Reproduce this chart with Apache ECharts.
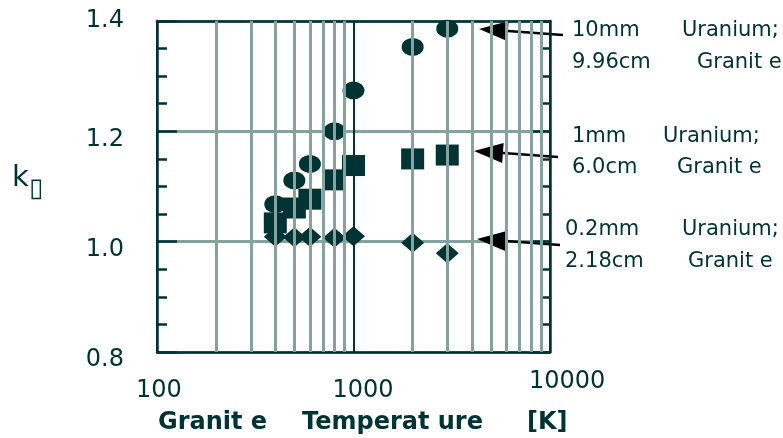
<!DOCTYPE html>
<html>
<head>
<meta charset="utf-8">
<script src="https://cdn.jsdelivr.net/npm/echarts@6/dist/echarts.min.js"></script>
<style>
html, body { margin: 0; padding: 0; background: #fff; }
#main { width: 783px; height: 438px; }
</style>
</head>
<body>
<div id="main"></div>
<script>
// 数据
var 温度 = [400, 500, 600, 800, 1000, 2000, 3000];
var k_10mm = [1.068, 1.111, 1.141, 1.200, 1.274, 1.353, 1.386];
var k_1mm = [1.034, 1.061, 1.077, 1.112, 1.138, 1.150, 1.157];
var k_02mm = [1.009, 1.008, 1.009, 1.007, 1.010, 0.998, 0.979];

var x刻度 = [100, 1000, 10000];
var x刻度文字 = ['100', '1000', '10000'];
var y刻度 = [0.8, 1.0, 1.2, 1.4];
var y刻度文字 = ['0.8', '1.0', '1.2', '1.4'];
var x细网格 = [200, 300, 400, 500, 600, 700, 800, 900, 2000, 3000, 4000, 5000, 6000, 7000, 8000, 9000];

var 深色 = '#003333';
var 灰色 = '#86a29e';
var 字体 = 'DejaVu Sans';

function 配对(xs, ys) {
    var arr = [];
    for (var i = 0; i < xs.length; i++) {
        arr.push([xs[i], ys[i]]);
    }
    return arr;
}

function 箭头(x1, y1, x2, y2) {
    // 从 (x1,y1) 指向 (x2,y2)
    var dx = x2 - x1, dy = y2 - y1;
    var len = Math.sqrt(dx * dx + dy * dy);
    var ux = dx / len, uy = dy / len;
    var 头长 = 29, 半宽 = 10;
    var bx = x2 - ux * 头长, by = y2 - uy * 头长;
    return [
        {
            type: 'line', silent: true,
            shape: { x1: x1, y1: y1, x2: bx, y2: by },
            style: { stroke: '#000', lineWidth: 2.5 }
        },
        {
            type: 'polygon', silent: true,
            shape: { points: [[x2, y2], [bx - uy * 半宽, by + ux * 半宽], [bx + uy * 半宽, by - ux * 半宽]] },
            style: { fill: '#000' }
        }
    ];
}

function 文字(x, y, text, size, weight, align) {
    return {
        type: 'text', silent: true, x: x, y: y,
        style: {
            text: text, fill: 深色, fontSize: size, fontFamily: 字体,
            fontWeight: weight || 'normal', align: align || 'left', verticalAlign: 'middle'
        }
    };
}

var myChart = echarts.init(document.getElementById('main'));

var yAxis公共 = {
    type: 'value', min: 0.8, max: 1.4, interval: 0.2,
    axisLine: { show: true, lineStyle: { color: 深色, width: 2.5 } },
    axisTick: { show: true, inside: true, length: 20, lineStyle: { color: 深色, width: 2.5 } },
    minorTick: { show: true, splitNumber: 4, length: 10, lineStyle: { color: 深色, width: 2.5 } },
    axisLabel: { show: false }
};

var option = {
    animation: false,
    backgroundColor: '#fff',
    grid: { left: 157, right: 233, top: 21, bottom: 86, containLabel: false, outerBoundsMode: 'none' },
    xAxis: [
        {
            type: 'log', logBase: 10, min: 100, max: 10000, position: 'bottom',
            axisLine: { show: true, lineStyle: { color: 深色, width: 2.5 } },
            axisTick: { show: false },
            axisLabel: { show: false },
            splitLine: { show: true, lineStyle: { color: 深色, width: 2 } }
        },
        {
            type: 'log', logBase: 10, min: 100, max: 10000, position: 'top',
            axisLine: { show: true, lineStyle: { color: 深色, width: 2.5 } },
            axisTick: { show: false },
            axisLabel: { show: false },
            splitLine: { show: false }
        }
    ],
    yAxis: [
        Object.assign({}, yAxis公共, {
            position: 'left',
            splitLine: { show: true, lineStyle: { color: 灰色, width: 3 } }
        }),
        Object.assign({}, yAxis公共, {
            position: 'right',
            splitLine: { show: false }
        })
    ],
    series: [
        {
            // 次网格线
            type: 'line', data: [], z: 1, silent: true,
            markLine: {
                silent: true, symbol: ['none', 'none'], animation: false,
                label: { show: false },
                lineStyle: { color: 灰色, width: 3, type: 'solid' },
                emphasis: { disabled: true },
                data: x细网格.map(function (v) { return { xAxis: v }; })
            }
        },
        {
            name: '10mm', type: 'scatter', z: 3, symbol: 'circle', symbolSize: [22, 18],
            itemStyle: { color: 深色, opacity: 1 },
            data: 配对(温度, k_10mm)
        },
        {
            name: '1mm', type: 'scatter', z: 3, symbol: 'rect', symbolSize: [23, 21],
            itemStyle: { color: 深色, opacity: 1 },
            data: 配对(温度, k_1mm)
        },
        {
            name: '0.2mm', type: 'scatter', z: 3, symbol: 'diamond', symbolSize: [23, 20],
            itemStyle: { color: 深色, opacity: 1 },
            data: 配对(温度, k_02mm)
        }
    ]
};

myChart.setOption(option);

// 刻度文字
var 图形 = [];
for (var i = 0; i < x刻度.length; i++) {
    var px = myChart.convertToPixel({ xAxisIndex: 0 }, x刻度[i]);
    var py = (x刻度[i] === 10000) ? 382 : 391;
    图形.push(文字(px - 21, py, x刻度文字[i], 24));
}
for (var j = 0; j < y刻度.length; j++) {
    var yy = myChart.convertToPixel({ yAxisIndex: 0 }, y刻度[j]);
    var 偏移 = (j === y刻度.length - 1) ? 0 : 8;
    图形.push(文字(124, yy + 偏移, y刻度文字[j], 24, 'normal', 'right'));
}

// 轴标题
图形.push(文字(158, 423, 'Granit e', 24, 'bold'));
图形.push(文字(302, 423, 'Temperat ure', 24, 'bold'));
图形.push(文字(527, 423, '[K]', 24, 'bold'));

图形.push(文字(12, 178, 'k', 29));
图形.push(文字(29, 189, '\u25AF', 26));

// 注释
图形.push(文字(572, 31, '10mm', 21));
图形.push(文字(682, 31, 'Uranium;', 21));
图形.push(文字(572, 63, '9.96cm', 21));
图形.push(文字(697, 63, 'Granit e', 21));

图形.push(文字(572, 137, '1mm', 21));
图形.push(文字(663, 137, 'Uranium;', 21));
图形.push(文字(572, 168, '6.0cm', 21));
图形.push(文字(677, 168, 'Granit e', 21));

图形.push(文字(565, 230, '0.2mm', 21));
图形.push(文字(682, 230, 'Uranium;', 21));
图形.push(文字(565, 262, '2.18cm', 21));
图形.push(文字(688, 262, 'Granit e', 21));

图形 = 图形.concat(箭头(563, 35, 479, 29));
图形 = 图形.concat(箭头(558, 157, 474, 151));
图形 = 图形.concat(箭头(560, 245, 477, 239));

myChart.setOption({ graphic: 图形 });
</script>
</body>
</html>
